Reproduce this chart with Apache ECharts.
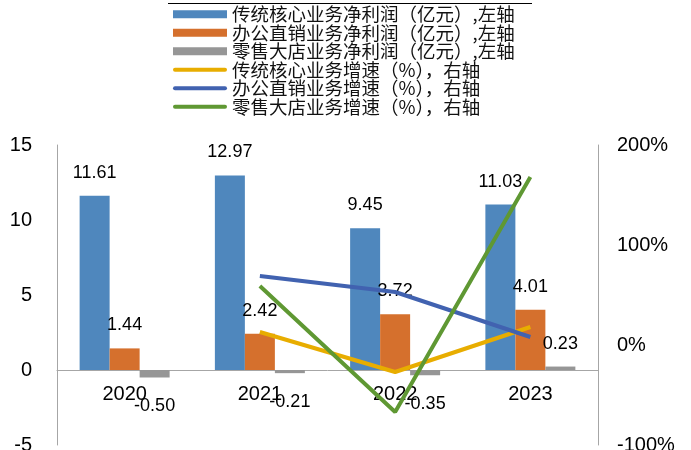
<!DOCTYPE html>
<html><head><meta charset="utf-8">
<script src="https://cdn.jsdelivr.net/npm/echarts@6/dist/echarts.min.js"></script>
<style>html,body{margin:0;padding:0;background:#fff}#c{width:691px;height:450px}</style>
</head><body><div id="c"></div>
<script>
const categories = ['2020', '2021', '2022', '2023'];
const coreProfit = [11.61, 12.97, 9.45, 11.03];
const officeProfit = [1.44, 2.42, 3.72, 4.01];
const retailProfit = [-0.50, -0.21, -0.35, 0.23];
const coreGrowth = [null, 13, -27, 18];
const officeGrowth = [null, 69, 53, 8];
const retailGrowth = [null, 59, -67, 168];
const leftTicks = {min: -5, max: 15, interval: 5};
const rightTicks = {min: -100, max: 200, interval: 100};
const names = ['传统核心业务净利润（亿元）,左轴', '办公直销业务净利润（亿元）,左轴', '零售大店业务净利润（亿元）,左轴',
  '传统核心业务增速（%），右轴', '办公直销业务增速（%），右轴', '零售大店业务增速（%），右轴'];

const chart = echarts.init(document.getElementById('c'));
const numFont = 'Liberation Sans, Arial, sans-serif';
const barLabel = (v) => ({
  value: v,
  label: v < 0 ? {position: 'bottom', distance: 20} : {position: 'top', distance: 14}
});
const labelStyle = {show: true, color: '#000', fontSize: 18, fontFamily: numFont, formatter: p => Number(p.value).toFixed(2)};
const axisLine = {show: true, lineStyle: {color: '#A6A6A6', width: 1}};
function bar(name, data, color) {
  return {name, type: 'bar', yAxisIndex: 0, barWidth: 30, barGap: '0%', data: data.map(barLabel),
    itemStyle: {color}, label: labelStyle, z: 2};
}
function line(name, data, color) {
  return {name, type: 'line', yAxisIndex: 1, data, symbol: 'none', showSymbol: false,
    lineStyle: {color, width: 4}, itemStyle: {color}, z: 3};
}
const lineIcon = 'path://M2,0 H52 A2,2 0 0 1 52,4 H2 A2,2 0 0 1 2,0 Z';
// the left axis puts its zero 3/4 down the 300px plot, so the category axis sits 75px above the grid bottom
const zeroOffset = -300 * (0 - leftTicks.min) / (leftTicks.max - leftTicks.min);
chart.setOption({
  animation: false,
  grid: {left: 57, right: 93, top: 145, bottom: 5, outerBoundsMode: 'none', containLabel: false},
  legend: {
    orient: 'vertical', left: 168, top: 0, itemGap: 0, itemWidth: 54, itemHeight: 8,
    textStyle: {fontFamily: 'Noto Sans CJK SC', fontSize: 18.5, lineHeight: 16, color: '#111'},
    data: names.map((n, i) => ({name: n, icon: i < 3 ? 'rect' : lineIcon}))
  },
  graphic: [{type: 'line', shape: {x1: 168, y1: 3.5, x2: 532, y2: 3.5}, style: {stroke: '#000', lineWidth: 1}}],
  xAxis: {
    type: 'category', data: categories, axisTick: {show: false}, position: 'bottom', offset: zeroOffset,
    axisLine: {show: true, onZero: false, lineStyle: {color: '#A6A6A6'}},
    axisLabel: {color: '#000', fontSize: 20, fontFamily: numFont, margin: 14}
  },
  yAxis: [
    {type: 'value', min: leftTicks.min, max: leftTicks.max, interval: leftTicks.interval, splitLine: {show: false},
      axisLine, axisTick: {show: false}, axisLabel: {color: '#000', fontSize: 20, fontFamily: numFont, margin: 25}},
    {type: 'value', min: rightTicks.min, max: rightTicks.max, interval: rightTicks.interval, splitLine: {show: false},
      axisLine, axisTick: {show: false}, axisLabel: {color: '#000', fontSize: 20, fontFamily: numFont, margin: 19, formatter: '{value}%'}}
  ],
  series: [
    bar(names[0], coreProfit, '#4F87BD'),
    bar(names[1], officeProfit, '#D5702D'),
    bar(names[2], retailProfit, '#969696'),
    line(names[3], coreGrowth, '#E8AD00'),
    line(names[4], officeGrowth, '#4162B0'),
    line(names[5], retailGrowth, '#5F9833')
  ]
});
</script></body></html>
